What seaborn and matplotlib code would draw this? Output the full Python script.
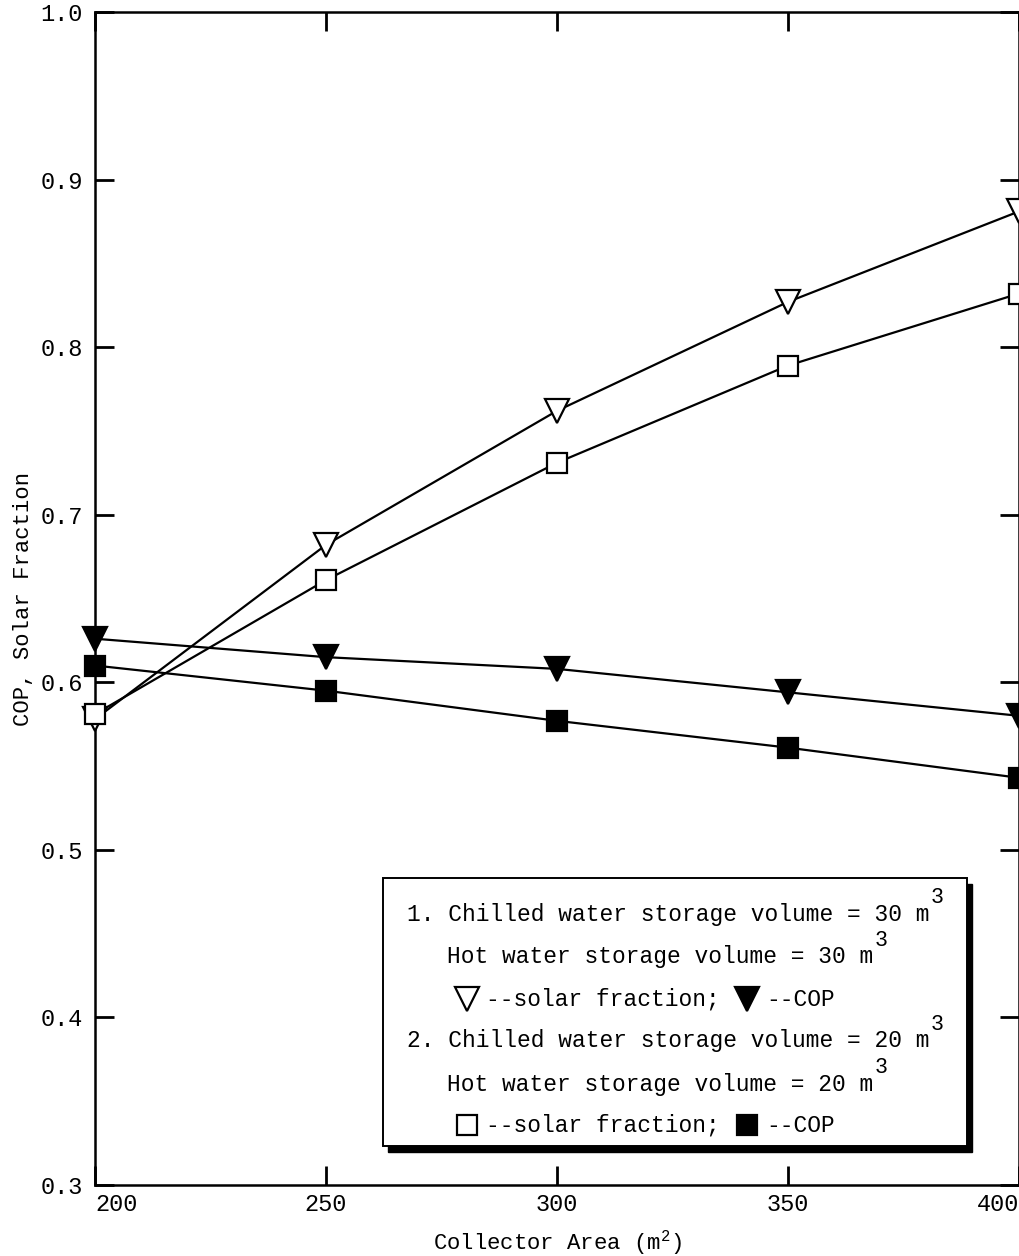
import matplotlib
matplotlib.use("Agg")
import matplotlib.pyplot as plt
from matplotlib.patches import Rectangle
import seaborn as sns
import pandas as pd

# Collector area (m^2)
collector_area = [200, 250, 300, 350, 400]

# Case 1: 30 m^3 chilled / 30 m^3 hot water storage
solar_fraction_30 = [0.578, 0.682, 0.762, 0.827, 0.881]
cop_30 = [0.626, 0.615, 0.608, 0.594, 0.580]

# Case 2: 20 m^3 chilled / 20 m^3 hot water storage
solar_fraction_20 = [0.581, 0.661, 0.731, 0.789, 0.832]
cop_20 = [0.610, 0.595, 0.577, 0.561, 0.543]

x_ticks = [200, 250, 300, 350, 400]
y_ticks = [0.3, 0.4, 0.5, 0.6, 0.7, 0.8, 0.9, 1.0]

sns.set_theme(style="ticks")
MONO = ["Liberation Mono", "DejaVu Sans Mono"]
plt.rcParams["font.family"] = MONO
plt.rcParams["mathtext.fontset"] = "custom"
plt.rcParams["mathtext.rm"] = "Liberation Mono"
plt.rcParams["mathtext.it"] = "Liberation Mono"
plt.rcParams["text.color"] = "black"
plt.rcParams["axes.labelcolor"] = "black"

W, H = 1019, 1256
fig = plt.figure(figsize=(W / 100, H / 100), dpi=100)
fig.patch.set_facecolor("white")
ax = fig.add_axes([95 / W, 1 - 1185 / H, (1019 - 95) / W, (1185 - 12) / H])
ax.set_facecolor("white")


def fpos(px, py):
    """Pixel position (from top-left) to figure fraction."""
    return px / W, 1 - py / H


series = [
    (solar_fraction_30, "v", "white", 17),
    (solar_fraction_20, "s", "white", 15),
    (cop_30, "v", "black", 17),
    (cop_20, "s", "black", 15),
]
for values, mk, face, ms in series:
    df = pd.DataFrame({"area": collector_area, "value": values})
    sns.lineplot(data=df, x="area", y="value", ax=ax, color="black", linewidth=1.6,
                 marker=mk, markersize=ms, markerfacecolor=face,
                 markeredgecolor="black", markeredgewidth=1.6, clip_on=False,
                 zorder=3)

ax.set_xlim(200, 400)
ax.set_ylim(0.3, 1.0)
ax.set_xticks(x_ticks)
ax.set_xticklabels([str(v) for v in x_ticks])
ax.set_yticks(y_ticks)
ax.set_yticklabels([f"{v:.1f}" for v in y_ticks])

ax.tick_params(axis="both", direction="in", length=14, width=2, color="black",
               labelsize=17, labelcolor="black")
ax.tick_params(axis="x", top=True, bottom=True, pad=6)
ax.tick_params(axis="y", left=True, right=True, pad=9)
ax.get_xticklabels()[0].set_horizontalalignment("left")
ax.get_xticklabels()[-1].set_horizontalalignment("right")

for side in ["left", "right", "top", "bottom"]:
    ax.spines[side].set_visible(True)
    ax.spines[side].set_color("black")
    ax.spines[side].set_linewidth(1.8)

ax.set_xlabel("Collector Area (m$^2$)", fontsize=16, color="black")
ax.xaxis.set_label_coords(0.5, -0.037)
ax.set_ylabel("COP, Solar Fraction", fontsize=16, color="black")
ax.yaxis.set_label_coords(-0.066, 0.5)
ax.grid(False)

# Legend panel with drop shadow
x0, y0 = fpos(383, 1146)
x1, y1 = fpos(967, 878)
sx, sy = fpos(388, 1152)
shadow = Rectangle((sx, sy), (x1 - x0), (y1 - y0), transform=fig.transFigure,
                   facecolor="black", edgecolor="black", clip_on=False, zorder=6)
box = Rectangle((x0, y0), x1 - x0, y1 - y0, transform=fig.transFigure,
                facecolor="white", edgecolor="black", linewidth=1.4,
                clip_on=False, zorder=7)
ax.add_patch(shadow)
ax.add_patch(box)

fs = 16.5


def legend_text(px, py, s, sup=None):
    t = ax.text(*fpos(px, py), s, transform=fig.transFigure, fontsize=fs,
                ha="left", va="center", zorder=8, color="black")
    if sup:
        ax.annotate(sup, xy=(1.0, 0.75), xycoords=t, xytext=(1, 0),
                    textcoords="offset points", fontsize=fs - 1,
                    ha="left", va="bottom", zorder=8, color="black")
    return t


legend_text(407, 914, "1. Chilled water storage volume = 30 m", "3")
legend_text(447, 957, "Hot water storage volume = 30 m", "3")
legend_text(486, 999, "--solar fraction;")
legend_text(766, 999, "--COP")
legend_text(407, 1041, "2. Chilled water storage volume = 20 m", "3")
legend_text(447, 1084, "Hot water storage volume = 20 m", "3")
legend_text(486, 1125, "--solar fraction;")
legend_text(766, 1125, "--COP")

legend_marks = [
    (467, 999, "v", "white", 17),
    (747, 999, "v", "black", 17),
    (467, 1125, "s", "white", 15),
    (747, 1125, "s", "black", 15),
]
for px, py, mk, face, ms in legend_marks:
    fx, fy = fpos(px, py)
    ax.plot([fx], [fy], transform=fig.transFigure, marker=mk, markersize=ms,
            markerfacecolor=face, markeredgecolor="black", markeredgewidth=1.6,
            linestyle="none", clip_on=False, zorder=8)

fig.savefig("out.png", dpi=100, facecolor="white")
